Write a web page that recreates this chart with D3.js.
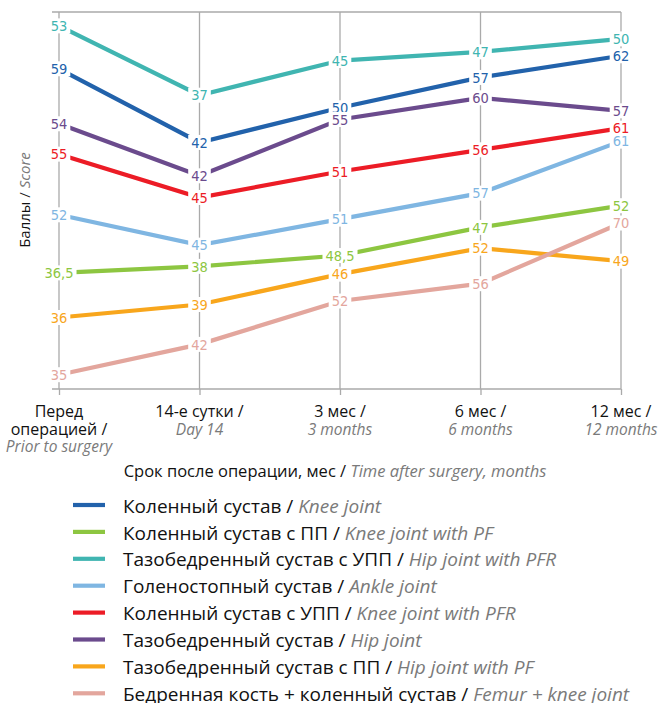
<!DOCTYPE html>
<html>
<head>
<meta charset="utf-8">
<script src="https://cdn.jsdelivr.net/npm/d3@7"></script>
<style>
  body { margin: 0; background: #fff; }
  svg text { font-family: "Open Sans", "Noto Sans", sans-serif; }
  .val { font-family: "Liberation Sans Narrow", "DejaVu Sans Condensed", sans-serif; font-size: 14.5px; }
  .en { fill: #7a7a7a; font-style: italic; }
</style>
</head>
<body>
<div id="drawing"></div>
<script>
// time points, tick labels
var tickRu = [["Перед", "операцией /"], ["14-е сутки /"], ["3 мес /"], ["6 мес /"], ["12 мес /"]];
var tickEn = ["Prior to surgery", "Day 14", "3 months", "6 months", "12 months"];

// series (legend order)
var seriesRu = ["Коленный сустав", "Коленный сустав с ПП", "Тазобедренный сустав с УПП", "Голеностопный сустав",
                "Коленный сустав с УПП", "Тазобедренный сустав", "Тазобедренный сустав с ПП", "Бедренная кость + коленный сустав"];
var seriesEn = ["Knee joint", "Knee joint with PF", "Hip joint with PFR", "Ankle joint",
                "Knee joint with PFR", "Hip joint", "Hip joint with PF", "Femur + knee joint"];
var colors = ["#2262ab", "#8dc641", "#40b5b1", "#7fb6e2", "#ec1c26", "#6b4b8d", "#f8a61c", "#e3a69d"];

var kneeJoint = [59, 42, 50, 57, 62];
var kneePF    = [36.5, 38, 40.5, 47, 52];
var hipPFR    = [53, 37, 45, 47, 50];
var ankle     = [52, 45, 51, 57, 69];
var kneePFR   = [55, 45, 51, 56, 61];
var hipJoint  = [54, 42, 55, 60, 57];
var hipPF     = [36, 39, 46, 52, 49];
var femurKnee = [35, 42, 52, 56, 70];
var allSeries = [kneeJoint, kneePF, hipPFR, ankle, kneePFR, hipJoint, hipPF, femurKnee];

// labels printed on the original that differ from where the point is drawn
var printedAs = [{s: 1, i: 2, text: "48,5"}, {s: 3, i: 4, text: "61"}];

// each series sits on its own score axis: top of the plot in score units, shared span
var scaleTops = [72.1, 96.7, 56.2, 98.8, 87.8, 79.8, 106.5, 118.7];
var scoreSpan = 87;

var width = 664, height = 703;
var plot = {left: 52, x0: 59, x1: 621, top: 12, bottom: 389};
var svg;

function setup() {
  svg = d3.select("#drawing").append("svg")
    .attr("width", width)
    .attr("height", height);
}

function make() {
  var x = d3.scalePoint().domain(d3.range(tickEn.length)).range([plot.x0, plot.x1]);
  var yScales = scaleTops.map(function(t) {
    return d3.scaleLinear().domain([t - scoreSpan, t]).range([plot.bottom, plot.top]);
  });

  var grid = svg.append("g").attr("stroke", "#aaaaaa").attr("stroke-width", 1.3);
  grid.append("line").attr("x1", plot.left).attr("x2", plot.x1).attr("y1", plot.top).attr("y2", plot.top);
  grid.selectAll(".v").data(x.domain()).join("line")
    .attr("x1", d => x(d)).attr("x2", d => x(d))
    .attr("y1", plot.top).attr("y2", plot.bottom);

  var xAxis = svg.append("g")
    .attr("transform", `translate(0, ${plot.bottom})`)
    .call(d3.axisBottom(x).tickSize(6).tickSizeOuter(0).tickFormat(""));
  xAxis.select(".domain").remove();
  xAxis.selectAll("line").attr("stroke", "#aaaaaa").attr("stroke-width", 1.3);
  xAxis.append("line").attr("x1", plot.left).attr("x2", plot.x1)
    .attr("stroke", "#aaaaaa").attr("stroke-width", 1.3);

  // tick labels
  x.domain().forEach(function(d) {
    var t = svg.append("text").attr("text-anchor", "middle").attr("font-size", 16);
    var lines = tickRu[d];
    lines.forEach(function(s, k) {
      t.append("tspan").attr("x", x(d)).attr("y", 417 + k * 17.5).attr("fill", "#111").text(s);
    });
    t.append("tspan").attr("class", "en").attr("x", x(d)).attr("y", 417 + lines.length * 17.5)
      .attr("font-size", 15.5).text(tickEn[d]);
  });

  var xt = svg.append("text").attr("x", 335).attr("y", 477).attr("text-anchor", "middle").attr("font-size", 16.5);
  xt.append("tspan").attr("fill", "#111").text("Срок после операции, мес / ");
  xt.append("tspan").attr("class", "en").text("Time after surgery, months");

  var yt = svg.append("text").attr("transform", "translate(30, 200) rotate(-90)")
    .attr("text-anchor", "middle").attr("font-size", 15);
  yt.append("tspan").attr("fill", "#111").text("Баллы / ");
  yt.append("tspan").attr("class", "en").text("Score");

  // lines
  var line = d3.line();
  allSeries.forEach(function(vals, s) {
    svg.append("path")
      .attr("d", line(vals.map((v, i) => [x(i), yScales[s](v)])))
      .attr("fill", "none")
      .attr("stroke", colors[s])
      .attr("stroke-width", 4.2);
  });

  // value labels on white patches
  var fmt = d3.format(".1~f");
  allSeries.forEach(function(vals, s) {
    vals.forEach(function(v, i) {
      var fix = printedAs.find(p => p.s === s && p.i === i);
      var txt = fix ? fix.text : fmt(v).replace(".", ",");
      var g = svg.append("g");
      var bg = g.append("rect").attr("fill", "#fff");
      var t = g.append("text").attr("class", "val")
        .attr("x", x(i)).attr("y", yScales[s](v)).attr("dy", "0.36em")
        .attr("text-anchor", "middle").attr("fill", colors[s]).text(txt);
      var b = t.node().getBBox();
      bg.attr("x", b.x - 3).attr("width", b.width + 6)
        .attr("y", yScales[s](v) - 7.5).attr("height", 15);
    });
  });

  // legend
  var legend = svg.append("g");
  seriesRu.forEach(function(name, s) {
    var yy = 505 + s * 26.9;
    legend.append("line").attr("x1", 73).attr("x2", 105).attr("y1", yy).attr("y2", yy)
      .attr("stroke", colors[s]).attr("stroke-width", 4.2);
    var t = legend.append("text").attr("x", 123).attr("y", yy + 1).attr("dy", "0.35em").attr("font-size", 19);
    t.append("tspan").attr("fill", "#111").text(name + " / ");
    t.append("tspan").attr("class", "en").text(seriesEn[s]);
  });
}

setup();
make();
</script>
</body>
</html>
